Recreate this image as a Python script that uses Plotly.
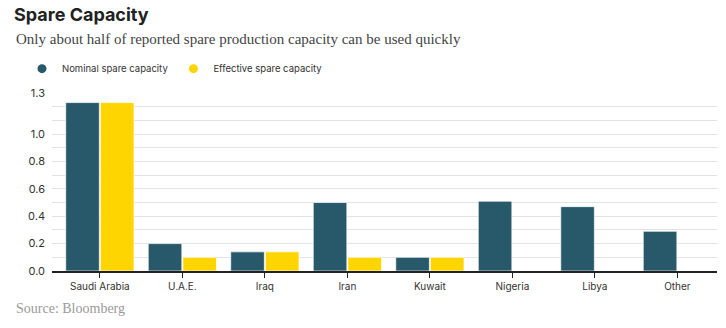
import plotly.graph_objects as go

categories = ["Saudi Arabia", "U.A.E.", "Iraq", "Iran", "Kuwait", "Nigeria", "Libya", "Other"]
nominal = [1.23, 0.20, 0.14, 0.50, 0.10, 0.51, 0.47, 0.29]
effective = [1.23, 0.10, 0.14, 0.10, 0.10, 0.0, 0.0, 0.0]
y_tickvals = [0.0, 0.1, 0.2, 0.3, 0.4, 0.5, 0.6, 0.7, 0.8, 0.9, 1.0, 1.1, 1.2, 1.3]
y_ticktext = ["0.0", "", "0.2", "", "0.4", "", "0.6", "", "0.8", "", "1.0", "", "", "1.3"]

NAVY = "#27596B"
YELLOW = "#FFD500"
W, H = 726, 328

fig = go.Figure()
fig.add_trace(go.Bar(x=categories, y=nominal, name="Nominal spare capacity",
                     marker=dict(color=NAVY, line=dict(color="rgba(255,255,255,0.7)", width=1)),
                     showlegend=False))
fig.add_trace(go.Bar(x=categories, y=effective, name="Effective spare capacity",
                     marker=dict(color=YELLOW, line=dict(color="rgba(255,255,255,0.7)", width=1)),
                     showlegend=False))
# legend entries with circular markers
fig.add_trace(go.Scatter(x=[None], y=[None], mode="markers", name="Nominal spare capacity",
                         marker=dict(color=NAVY, size=9, symbol="circle")))
fig.add_trace(go.Scatter(x=[None], y=[None], mode="markers", name="Effective spare capacity",
                         marker=dict(color=YELLOW, size=9, symbol="circle")))

ml, mr, mt, mb = 52, 9, 92.5, 56.5
fig.update_layout(
    width=W, height=H,
    margin=dict(l=ml, r=mr, t=mt, b=mb, pad=0),
    paper_bgcolor="white", plot_bgcolor="white",
    barmode="group", bargap=0.16, bargroupgap=0.03,
    font=dict(family="Inter, Roboto, sans-serif", size=10, color="#333"),
    title=dict(text="<b>Spare Capacity</b>", xref="container", yref="container",
               x=14 / W, xanchor="left", y=1 - 15 / H, yanchor="middle",
               font=dict(family="Inter, Roboto, sans-serif", size=18, color="#222")),
    legend=dict(orientation="h", x=(22 - ml) / (W - ml - mr), xanchor="left",
                y=1 + (mt - 68) / (H - mt - mb), yanchor="middle",
                font=dict(size=9.5, color="#333"), itemwidth=30,
                bgcolor="rgba(0,0,0,0)"),
    xaxis=dict(range=[-0.58, 7.48], showline=True, linecolor="#222", linewidth=1.5,
               ticks="outside", ticklen=5, tickcolor="#222", tickwidth=1,
               showgrid=False, tickfont=dict(size=10, color="#333"), fixedrange=True),
    yaxis=dict(range=[0, 1.3], tickvals=y_tickvals, ticktext=y_ticktext,
               showgrid=True, gridcolor="#e3e3e3", gridwidth=1, zeroline=False,
               ticks="", tickfont=dict(size=11, color="#333"), ticklabelstandoff=6),
    annotations=[
        dict(text="Only about half of reported spare production capacity can be used quickly",
             xref="paper", yref="paper", x=(14 - ml) / (W - ml - mr),
             y=1 + (mt - 38) / (H - mt - mb), xanchor="left", yanchor="middle",
             showarrow=False, font=dict(family="Liberation Serif, serif", size=15, color="#444")),
        dict(text="Source: Bloomberg", xref="paper", yref="paper", x=(14 - ml) / (W - ml - mr),
             y=-(309 - (H - mb)) / (H - mt - mb), xanchor="left", yanchor="middle",
             showarrow=False, font=dict(family="Liberation Serif, serif", size=14, color="#9a9a9a")),
    ],
)

fig.write_html("out.html")
